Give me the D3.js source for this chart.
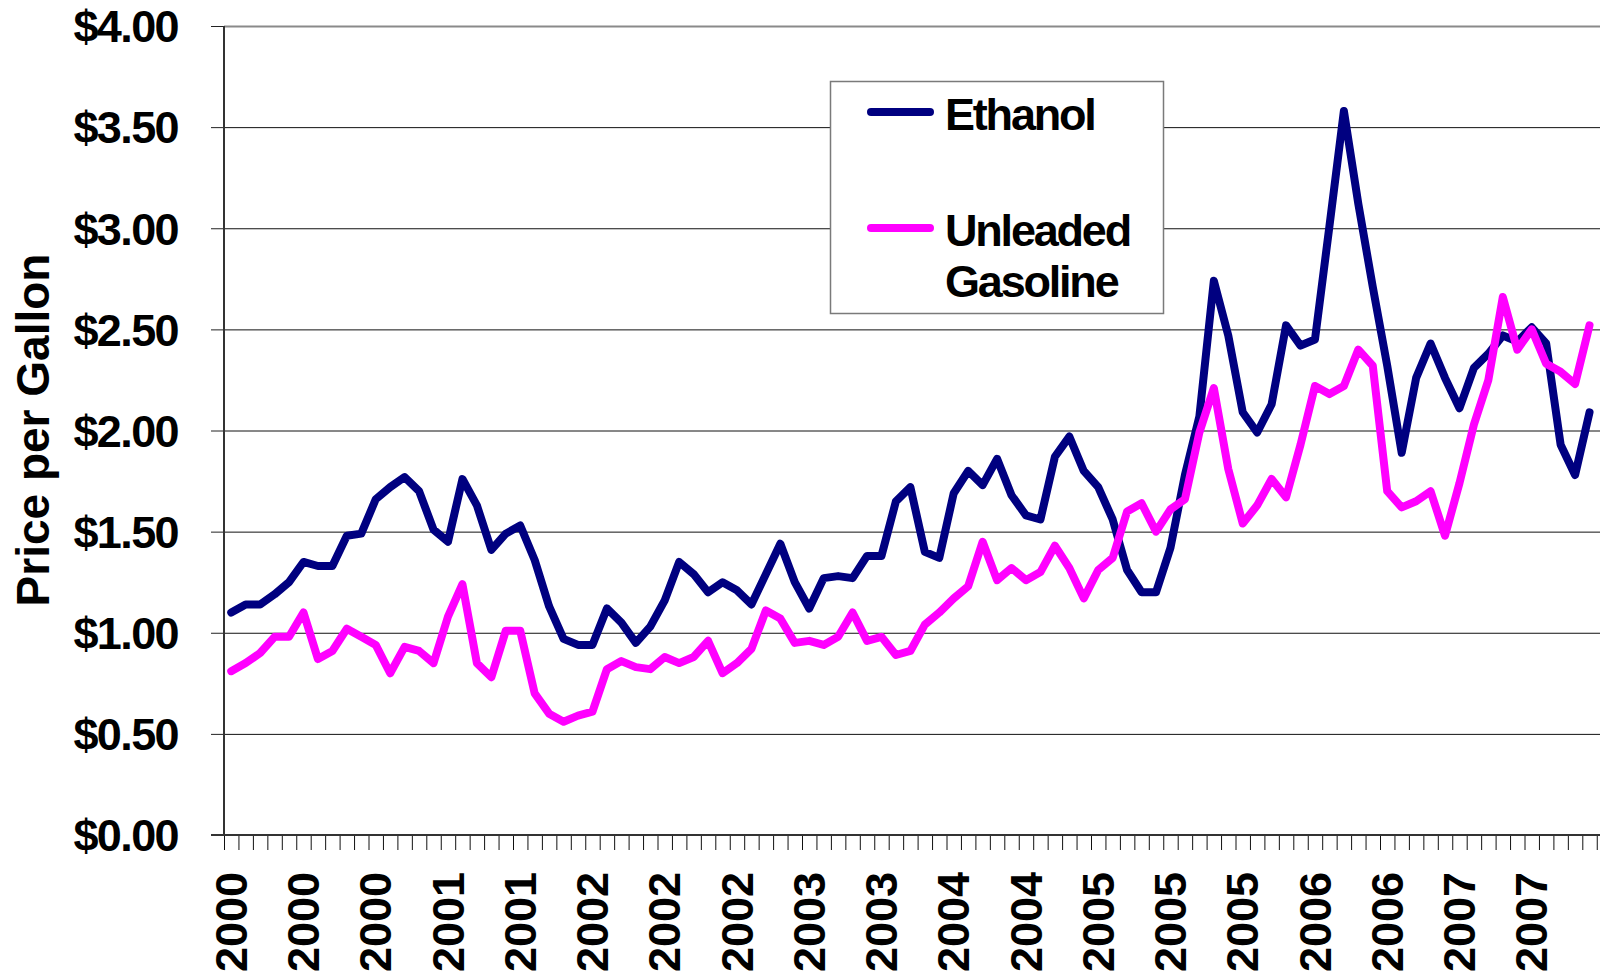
<!DOCTYPE html>
<html>
<head>
<meta charset="utf-8">
<script src="https://cdn.jsdelivr.net/npm/d3@7"></script>
<style>
  body { margin: 0; background: #fff; }
  text { font-family: "Liberation Sans", Arial, sans-serif; font-weight: bold; fill: #000; }
</style>
</head>
<body>
<div id="chart"></div>
<script>
// Monthly prices, Jan 2000 - Nov 2007 ($ per gallon)
var ethanol = [1.10, 1.14, 1.14, 1.19, 1.25, 1.35, 1.33, 1.33, 1.48, 1.49, 1.66, 1.72,
  1.77, 1.70, 1.51, 1.45, 1.76, 1.63, 1.41, 1.49, 1.53, 1.36, 1.13, 0.97,
  0.94, 0.94, 1.12, 1.05, 0.95, 1.03, 1.16, 1.35, 1.29, 1.20, 1.25, 1.21,
  1.14, 1.29, 1.44, 1.25, 1.12, 1.27, 1.28, 1.27, 1.38, 1.38, 1.65, 1.72,
  1.40, 1.37, 1.69, 1.80, 1.73, 1.86, 1.68, 1.58, 1.56, 1.87, 1.97, 1.80,
  1.72, 1.56, 1.31, 1.20, 1.20, 1.42, 1.78, 2.07, 2.74, 2.47, 2.09, 1.99,
  2.13, 2.52, 2.42, 2.45, 3.01, 3.58, 3.12, 2.71, 2.32, 1.89, 2.26, 2.43,
  2.26, 2.11, 2.31, 2.38, 2.47, 2.44, 2.51, 2.43, 1.93, 1.78, 2.09];

var gasoline = [0.81, 0.85, 0.90, 0.98, 0.98, 1.10, 0.87, 0.91, 1.02, 0.98, 0.94, 0.80,
  0.93, 0.91, 0.85, 1.08, 1.24, 0.85, 0.78, 1.01, 1.01, 0.70, 0.60, 0.56,
  0.59, 0.61, 0.82, 0.86, 0.83, 0.82, 0.88, 0.85, 0.88, 0.96, 0.80, 0.85,
  0.92, 1.11, 1.07, 0.95, 0.96, 0.94, 0.98, 1.10, 0.96, 0.98, 0.89, 0.91,
  1.04, 1.10, 1.17, 1.23, 1.45, 1.26, 1.32, 1.26, 1.30, 1.43, 1.32, 1.17,
  1.31, 1.37, 1.60, 1.64, 1.50, 1.61, 1.66, 1.99, 2.21, 1.81, 1.54, 1.63,
  1.76, 1.67, 1.93, 2.22, 2.18, 2.22, 2.40, 2.32, 1.70, 1.62, 1.65, 1.70,
  1.48, 1.74, 2.03, 2.25, 2.66, 2.40, 2.50, 2.33, 2.29, 2.23, 2.52];

// one label every 5 months
var tickYears = ["2000", "2000", "2000", "2001", "2001", "2002", "2002", "2002", "2003", "2003",
  "2004", "2004", "2005", "2005", "2005", "2006", "2006", "2007", "2007"];
var labelEvery = 5;
var monthCount = 96;

var yTicks = [0, 0.5, 1, 1.5, 2, 2.5, 3, 3.5, 4];

var seriesNames = ["Ethanol", "Unleaded Gasoline"];
var seriesColors = ["#000080", "#ff00ff"];

var W = 1600, H = 976;
var plotLeft = 224, plotTop = 26, plotBottom = 835;
var plotRight = plotLeft + monthCount * 14.45;

var svg = d3.select("#chart").append("svg")
  .attr("width", W)
  .attr("height", H);

var months = d3.range(monthCount);

var xBand = d3.scaleBand()
  .domain(months)
  .range([plotLeft, plotRight])
  .paddingInner(0);

var xEdge = d3.scaleLinear()
  .domain([0, monthCount])
  .range([plotLeft, plotRight]);

var y = d3.scaleLinear()
  .domain([0, 4])
  .range([plotBottom, plotTop]);

// gridlines
svg.append("g")
  .attr("class", "grid")
  .attr("transform", "translate(" + plotLeft + ",0)")
  .call(d3.axisLeft(y).tickValues(yTicks).tickSize(-(plotRight - plotLeft)).tickFormat(""))
  .call(function(g) { g.select(".domain").remove(); })
  .selectAll("line")
  .attr("stroke", function(d) { return d === 4 ? "#8a8a8a" : "#111"; })
  .attr("stroke-width", function(d) { return d === 4 ? 2 : 1; });

// y axis
var yAxis = svg.append("g")
  .attr("transform", "translate(" + plotLeft + ",0)")
  .call(d3.axisLeft(y)
    .tickValues(yTicks)
    .tickSize(13)
    .tickPadding(33)
    .tickFormat(d3.format("$.2f")));
yAxis.select(".domain").remove();
yAxis.selectAll("line").attr("stroke", "#222");
yAxis.selectAll("text")
  .attr("dy", "0.35em")
  .style("font-size", "45px")
  .style("letter-spacing", "-1.6px");

// x axis ticks on month boundaries
var xTicks = svg.append("g")
  .attr("transform", "translate(0," + plotBottom + ")")
  .call(d3.axisBottom(xEdge).tickValues(d3.range(monthCount + 1)).tickSize(15).tickFormat(""));
xTicks.select(".domain").remove();
xTicks.selectAll("line").attr("stroke", "#111");

// x labels, rotated
svg.append("g")
  .selectAll("text")
  .data(tickYears)
  .enter().append("text")
  .attr("transform", function(d, i) {
    var cx = xBand(i * labelEvery) + xBand.bandwidth() / 2;
    return "translate(" + cx + ",872) rotate(-90)";
  })
  .attr("dy", "0.35em")
  .style("text-anchor", "end")
  .style("font-size", "45px")
  .text(function(d) { return d; });

// axis lines
svg.append("line")
  .attr("x1", plotLeft).attr("x2", plotLeft)
  .attr("y1", plotTop).attr("y2", plotBottom)
  .attr("stroke", "#333").attr("stroke-width", 2);
svg.append("line")
  .attr("x1", plotLeft - 13).attr("x2", plotRight)
  .attr("y1", plotBottom).attr("y2", plotBottom)
  .attr("stroke", "#333").attr("stroke-width", 2);

// y title
svg.append("text")
  .attr("transform", "translate(49,430) rotate(-90)")
  .style("text-anchor", "middle")
  .style("font-size", "46px")
  .text("Price per Gallon");

// lines
var line = d3.line()
  .x(function(d, i) { return xBand(i) + xBand.bandwidth() / 2; })
  .y(function(d) { return y(d); });

[ethanol, gasoline].forEach(function(data, k) {
  svg.append("path")
    .datum(data)
    .attr("fill", "none")
    .attr("stroke", seriesColors[k])
    .attr("stroke-width", 8)
    .attr("stroke-linejoin", "round")
    .attr("stroke-linecap", "round")
    .attr("d", line);
});

// legend
var legend = svg.append("g");
legend.append("rect")
  .attr("x", 830.5).attr("y", 81.5)
  .attr("width", 333).attr("height", 232)
  .attr("fill", "#fff")
  .attr("stroke", "#7a7a7a")
  .attr("stroke-width", 1.5);

var legendRows = [
  { lineY: 112, lines: ["Ethanol"], baseY: 130 },
  { lineY: 228, lines: ["Unleaded", "Gasoline"], baseY: 246 }
];

legendRows.forEach(function(r, k) {
  legend.append("line")
    .attr("x1", 871).attr("x2", 930)
    .attr("y1", r.lineY).attr("y2", r.lineY)
    .attr("stroke", seriesColors[k])
    .attr("stroke-width", 8)
    .attr("stroke-linecap", "round");
  r.lines.forEach(function(t, j) {
    legend.append("text")
      .attr("x", 945)
      .attr("y", r.baseY + j * 51)
      .style("font-size", "45px")
      .style("letter-spacing", "-2.2px")
      .text(t);
  });
});
</script>
</body>
</html>
